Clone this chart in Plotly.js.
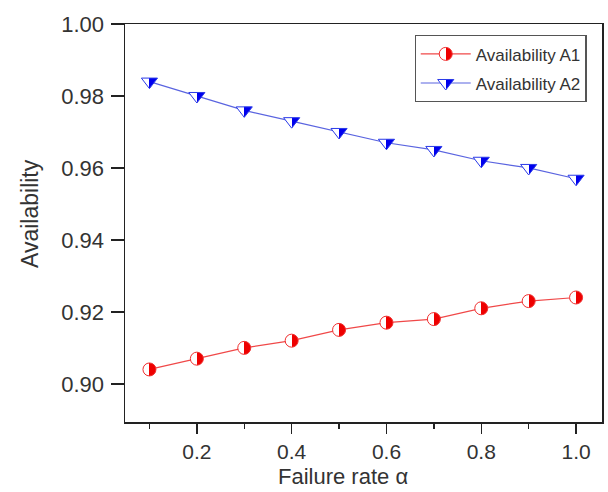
<!DOCTYPE html>
<html>
<head>
<meta charset="utf-8">
<script src="https://cdn.plot.ly/plotly-3.0.1.min.js"></script>
<style>html,body{margin:0;padding:0;background:#fff;}#chart{width:608px;height:492px;}</style>
</head>
<body>
<div id="chart"></div>
<script>
const failureRate = [0.1, 0.2, 0.3, 0.4, 0.5, 0.6, 0.7, 0.8, 0.9, 1.0];
const availabilityA1 = [0.904, 0.907, 0.910, 0.912, 0.915, 0.917, 0.918, 0.921, 0.923, 0.924];
const availabilityA2 = [0.984, 0.980, 0.976, 0.973, 0.970, 0.967, 0.965, 0.962, 0.960, 0.957];
const xTickVals = [0.2, 0.4, 0.6, 0.8, 1.0];
const xTickText = ['0.2', '0.4', '0.6', '0.8', '1.0'];
const xMinorVals = [0.1, 0.3, 0.5, 0.7, 0.9];
const yTickVals = [0.90, 0.92, 0.94, 0.96, 0.98, 1.00];
const yTickText = ['0.90', '0.92', '0.94', '0.96', '0.98', '1.00'];
const xTitle = 'Failure rate α';
const yTitle = 'Availability';

const traces = [
  {
    x: failureRate, y: availabilityA1, name: 'Availability A1', type: 'scatter', mode: 'lines+markers',
    legendgroup: 'a1',
    line: {color: '#f04848', width: 1.2},
    marker: {symbol: 'circle', size: 13, color: '#ffffff',
      gradient: {type: 'horizontal', color: '#ee0000'},
      line: {color: '#f03030', width: 1}}
  },
  {
    x: failureRate, y: availabilityA2, name: 'Availability A2', type: 'scatter', mode: 'lines+markers',
    legendgroup: 'a2',
    line: {color: '#5a64e0', width: 1.2},
    marker: {symbol: 'triangle-down', size: 14, color: '#ffffff',
      gradient: {type: 'horizontal', color: '#0000ee'},
      line: {color: '#2a3ae8', width: 1}}
  }
];

const layout = {
  width: 608, height: 492,
  margin: {l: 125, r: 6, t: 24, b: 70},
  paper_bgcolor: '#ffffff', plot_bgcolor: '#ffffff',
  font: {family: 'Liberation Sans, Arial, sans-serif', color: '#222'},
  showlegend: true,
  legend: {x: 0.607, y: 0.972, xanchor: 'left', yanchor: 'top', bgcolor: '#ffffff',
    bordercolor: '#555', borderwidth: 1.2, font: {size: 17, color: '#333'},
    tracegroupgap: 4, itemwidth: 50},
  xaxis: {
    range: [0.0484, 1.0547], tickvals: xTickVals, ticktext: xTickText,
    showgrid: false, zeroline: false, showline: true, mirror: true, linecolor: '#222', linewidth: 1.5,
    ticks: 'outside', ticklen: 10, tickwidth: 1.5, tickcolor: '#222',
    tickfont: {size: 21, color: '#333'},
    minor: {tickvals: xMinorVals, ticks: 'outside', ticklen: 5, tickwidth: 1.5, tickcolor: '#222'}
  },
  yaxis: {
    range: [0.8894, 1.0], tickvals: yTickVals, ticktext: yTickText,
    showgrid: false, zeroline: false, showline: true, mirror: true, linecolor: '#222', linewidth: 1.5,
    ticks: 'outside', ticklen: 13, tickwidth: 1.5, tickcolor: '#222',
    tickfont: {size: 22, color: '#333'}, ticklabelstandoff: 2
  },
  annotations: [
    {text: xTitle, xref: 'paper', yref: 'paper', x: 0.457, y: -0.136, xanchor: 'center', yanchor: 'middle',
     showarrow: false, font: {size: 22, color: '#333'}},
    {text: yTitle, xref: 'paper', yref: 'paper', x: -0.198, y: 0.524, xanchor: 'center', yanchor: 'middle',
     textangle: -90, showarrow: false, font: {size: 23, color: '#333'}}
  ]
};

function hardSplitGradients() {
  document.querySelectorAll('#chart linearGradient').forEach(function (g) {
    const stops = g.querySelectorAll('stop');
    if (stops.length < 2) return;
    const colors = Array.from(stops).map(s => s.getAttribute('stop-color'));
    const white = colors.find(c => /#fff|rgb\(255, ?255, ?255\)/i.test(c)) || colors[1];
    const solid = colors.find(c => c !== white) || colors[0];
    g.setAttribute('x1', '0'); g.setAttribute('x2', '1');
    g.setAttribute('y1', '0'); g.setAttribute('y2', '0');
    while (g.firstChild) g.removeChild(g.firstChild);
    [[0, white], [0.5, white], [0.5, solid], [1, solid]].forEach(function (p) {
      const s = document.createElementNS('http://www.w3.org/2000/svg', 'stop');
      s.setAttribute('offset', p[0]);
      s.setAttribute('stop-color', p[1]);
      g.appendChild(s);
    });
  });
}

Plotly.newPlot('chart', traces, layout, {displayModeBar: false, staticPlot: true}).then(hardSplitGradients);
</script>
</body>
</html>
